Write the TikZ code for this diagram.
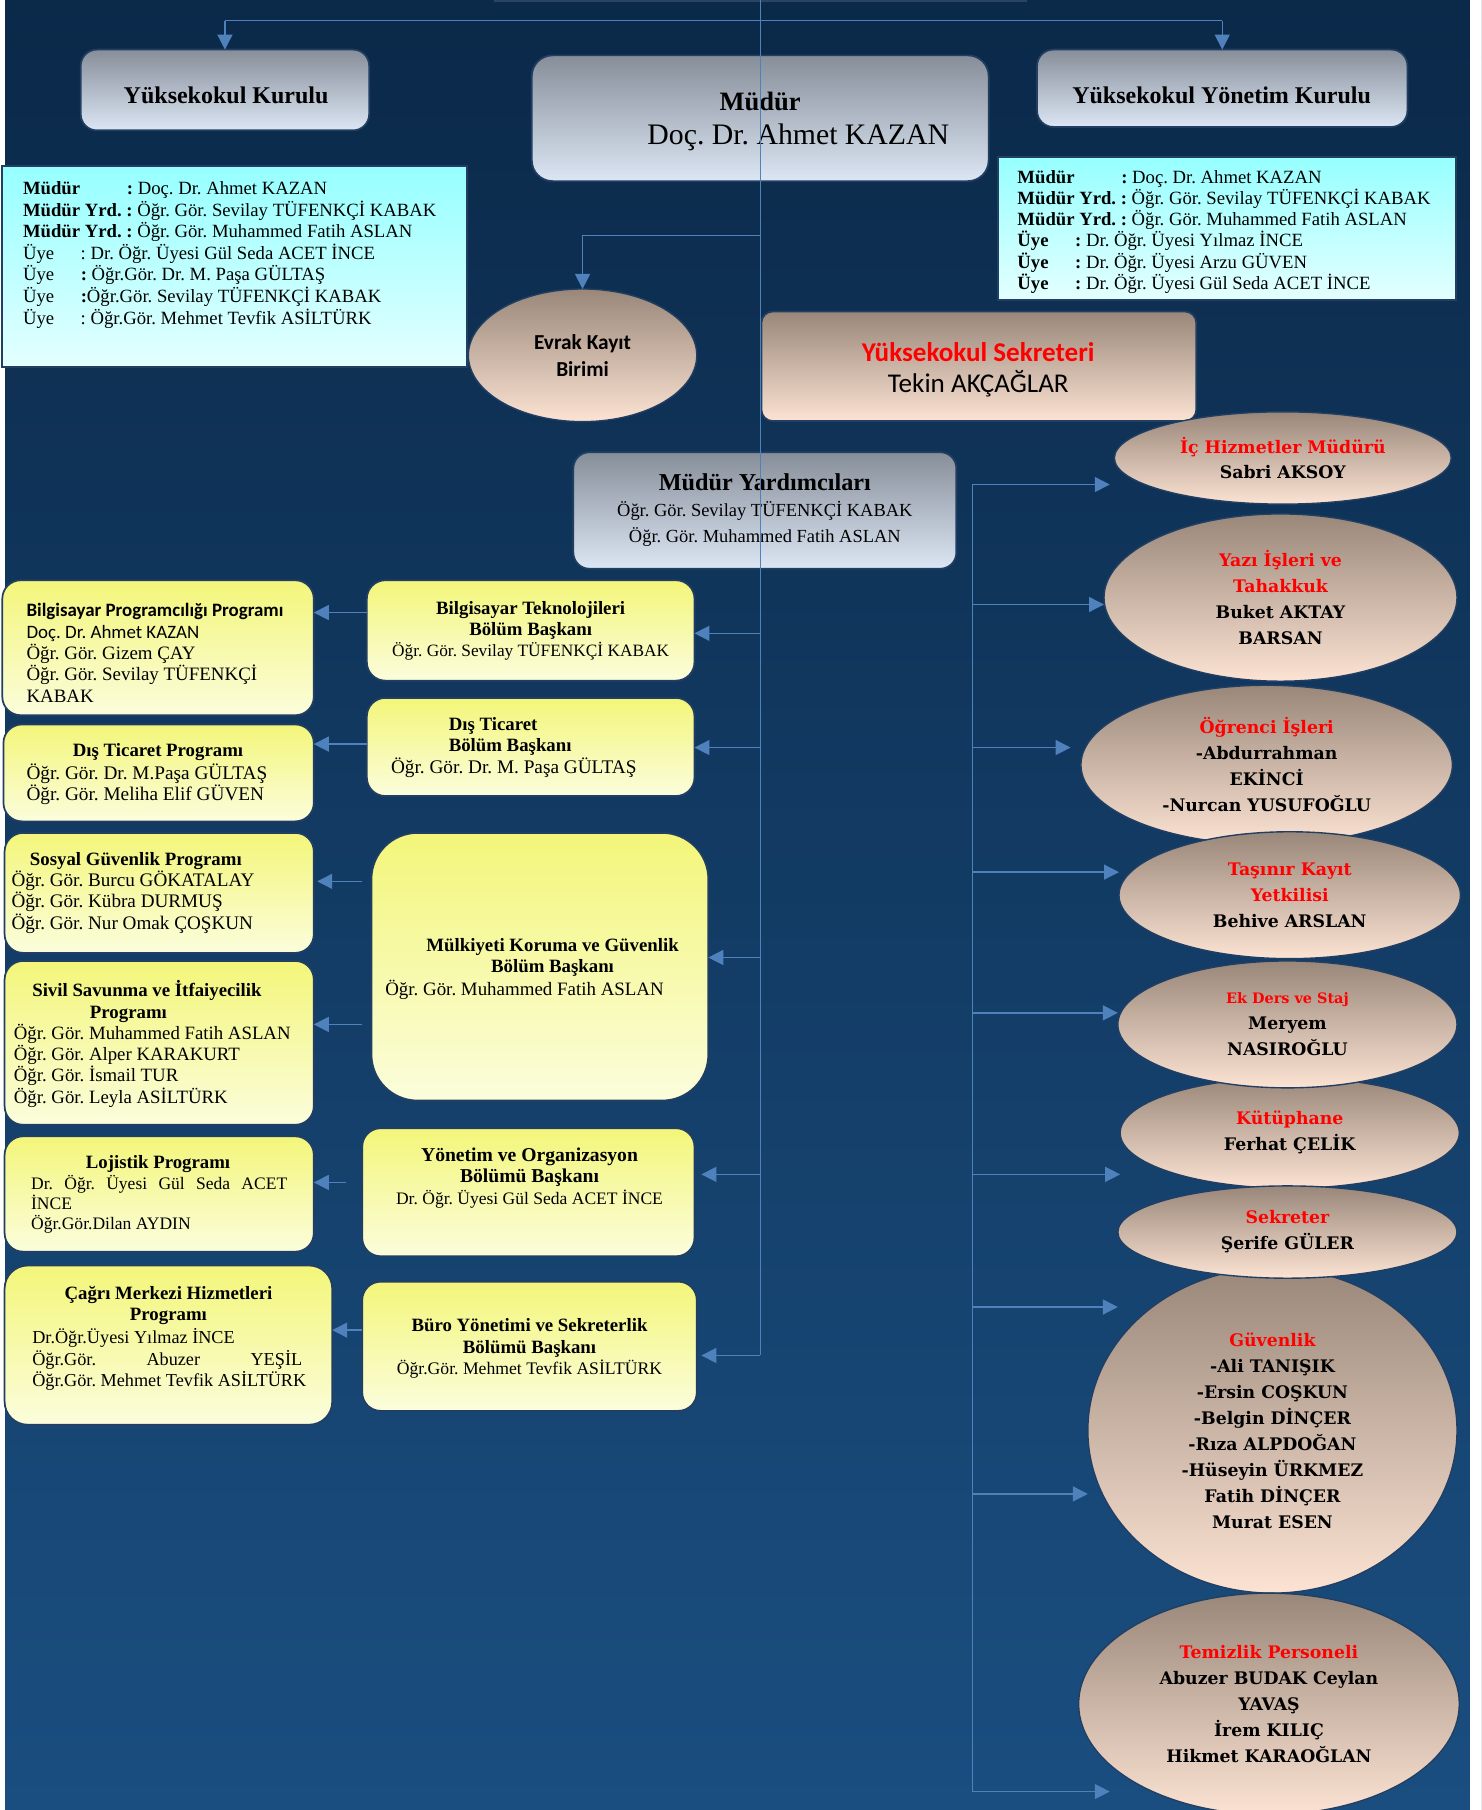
\documentclass[tikz,border=0pt]{standalone}
\usepackage{fontspec}
\setmainfont{Liberation Serif}
\newfontfamily\calfont{Carlito}
\newfontfamily\ellfont{DejaVu Serif}
\usetikzlibrary{shapes.geometric,arrows.meta}
\definecolor{bgtop}{HTML}{0B2949}
\definecolor{bgbot}{HTML}{1A4E80}
\definecolor{linecol}{HTML}{4F81BD}
\definecolor{edgecol}{HTML}{223F63}
\definecolor{topedge}{HTML}{2B4466}
\definecolor{graytop}{HTML}{868E99}
\definecolor{graybot}{HTML}{DCE6F4}
\definecolor{cyantop}{HTML}{96FFFF}
\definecolor{cyanbot}{HTML}{E4FFFF}
\definecolor{yeltop}{HTML}{F3F679}
\definecolor{yelbot}{HTML}{FBFDDC}
\definecolor{peachtop}{HTML}{998779}
\definecolor{peachbot}{HTML}{FCE3D3}
\definecolor{redtxt}{HTML}{FF0000}
\newcommand\fsz[2]{\fontsize{#1}{#2}\selectfont}
\newcommand\rd[1]{\textcolor{redtxt}{#1}}
\newcommand\hd[1]{{\fontsize{16.3}{18}\selectfont\bfseries #1}}
\begin{document}
\frenchspacing
\begin{tikzpicture}[x=1pt,y=-1pt,
  conn/.style={draw=linecol, line width=1.2pt},
  arr/.style={conn, -{Triangle[length=13pt,width=13pt]}},
  boxbase/.style={draw=edgecol, line width=1.5pt, inner sep=0pt, outer sep=0pt, anchor=north west},
  gbox/.style={boxbase, rounded corners=14pt, top color=graytop, bottom color=graybot},
  cbox/.style={boxbase, top color=cyantop, bottom color=cyanbot},
  ybox/.style={boxbase, rounded corners=16pt, top color=yeltop, bottom color=yelbot},
  pbox/.style={boxbase, rounded corners=10pt, top color=peachtop, bottom color=peachbot},
  pell/.style={ellipse, draw=edgecol, line width=1.2pt, inner sep=0pt, outer sep=0pt,
     top color=peachtop, bottom color=peachbot, align=center, text=black},
  rell/.style={pell, font=\ellfont\bfseries\fsz{15}{22.5}},
  t/.style={inner sep=0pt, outer sep=0pt, text=black, align=center},
  tl/.style={inner sep=0pt, outer sep=0pt, text=black, align=left, anchor=west}
]
\useasboundingbox (0,0) rectangle (1284,1569);
% background
\shade[top color=bgtop, bottom color=bgbot] (0,0) rectangle (1284,1569);
\fill[white] (0,0) rectangle (4,1569);
\fill[white] (1274,0) rectangle (1284,1569);
\draw[topedge, line width=1.5pt] (428,0.8) -- (890,0.8);

% ---- top level boxes
\node[gbox, minimum width=250pt, minimum height=70pt] (kurulu) at (70,43) {};
\node[t, font=\bfseries\fsz{20.8}{24}] (kurulut) at (196,83) {Yüksekokul Kurulu};
\node[gbox, rounded corners=18pt, minimum width=396pt, minimum height=109pt] (mudur) at (461,48) {};
\node[t, font=\bfseries\fsz{23}{27}] (mudurt1) at (659,88) {Müdür};
\node[t, font=\fsz{25.8}{30}] (mudurt2) at (692,119) {Doç. Dr. Ahmet KAZAN};
\node[gbox, minimum width=321pt, minimum height=67pt] (yonetim) at (899,43) {};
\node[t, font=\bfseries\fsz{20.8}{24}] (yonetimt) at (1059,83) {Yüksekokul Yönetim Kurulu};

% ---- cyan lists
\node[cbox, minimum width=403pt, minimum height=174pt] (cyanL) at (2,144) {};
\node[tl, font=\fsz{16.2}{18.7}] (cyanLt) at (20,221) {%
\makebox[90pt][l]{\textbf{Müdür}}\textbf{:} Doç. Dr. Ahmet KAZAN\\
\textbf{Müdür Yrd. :} Öğr. Gör. Sevilay TÜFENKÇİ KABAK\\
\textbf{Müdür Yrd. :} Öğr. Gör. Muhammed Fatih ASLAN\\
\makebox[50pt][l]{Üye}: Dr. Öğr. Üyesi Gül Seda ACET İNCE\\
\makebox[50pt][l]{Üye}\textbf{:} Öğr.Gör. Dr. M. Paşa GÜLTAŞ\\
\makebox[50pt][l]{Üye}\textbf{:}Öğr.Gör. Sevilay TÜFENKÇİ KABAK\\
\makebox[50pt][l]{Üye}: Öğr.Gör. Mehmet Tevfik ASİLTÜRK};
\node[cbox, minimum width=397pt, minimum height=124pt] (cyanR) at (865,136) {};
\node[tl, font=\fsz{16.2}{18.4}] (cyanRt) at (882,201) {%
\makebox[90pt][l]{\textbf{Müdür}}\textbf{:} Doç. Dr. Ahmet KAZAN\\
\textbf{Müdür Yrd. :} Öğr. Gör. Sevilay TÜFENKÇİ KABAK\\
\textbf{Müdür Yrd. :} Öğr. Gör. Muhammed Fatih ASLAN\\
\makebox[50pt][l]{\textbf{Üye}}\textbf{:} Dr. Öğr. Üyesi Yılmaz İNCE\\
\makebox[50pt][l]{\textbf{Üye}}\textbf{:} Dr. Öğr. Üyesi Arzu GÜVEN\\
\makebox[50pt][l]{\textbf{Üye}}\textbf{:} Dr. Öğr. Üyesi Gül Seda ACET İNCE};

% ---- evrak, sekreter, mudur yardimcilari
\node[pell, minimum width=198pt, minimum height=115pt, font=\calfont\bfseries\fsz{18.5}{23}] (evrak) at (505,308) {Evrak Kayıt\\Birimi};
\node[pbox, minimum width=377pt, minimum height=95pt] (sekreteri) at (660,270) {};
\node[t, font=\calfont\fsz{23.5}{27}] (sekreterit) at (848,320.5) {\rd{\bfseries Yüksekokul Sekreteri}\\Tekin AKÇAĞLAR};
\node[gbox, minimum width=332pt, minimum height=101pt] (myard) at (497,392) {};
\node[t, font=\bfseries\fsz{21}{24}] (myardt1) at (663,418) {Müdür Yardımcıları};
\node[t, font=\fsz{16}{22}] (myardt2) at (663,454) {Öğr. Gör. Sevilay TÜFENKÇİ KABAK\\Öğr. Gör. Muhammed Fatih ASLAN};

% ---- department heads
\node[ybox, minimum width=284pt, minimum height=87pt] (bt) at (318,503) {};
\node[t, font=\fsz{15}{18}] (btt) at (460,547) {\hd{Bilgisayar Teknolojileri}\\\hd{Bölüm Başkanı}\\Öğr. Gör. Sevilay TÜFENKÇİ KABAK};
\node[ybox, minimum width=284pt, minimum height=85pt] (dt) at (318,605) {};
\node[tl, font=\fsz{16.7}{18.5}] (dtt) at (339,648) {\hspace*{50pt}\hd{Dış Ticaret}\\\hspace*{50pt}\hd{Bölüm Başkanı}\\Öğr. Gör. Dr. M. Paşa GÜLTAŞ};
\node[ybox, rounded corners=40pt, minimum width=292pt, minimum height=232pt] (mk) at (322,722) {};
\node[t, font=\fsz{16.3}{18}] (mkt1) at (479,830) {\hd{Mülkiyeti Koruma ve Güvenlik}\\\hd{Bölüm Başkanı}};
\node[tl, font=\fsz{16.4}{18}] (mkt2) at (334,858) {Öğr. Gör. Muhammed Fatih ASLAN};
\node[ybox, minimum width=288pt, minimum height=111pt] (yo) at (314,978) {};
\node[t, font=\fsz{15.2}{18.5}] (yot) at (459,1021) {{\fsz{17}{18}\bfseries Yönetim ve Organizasyon}\\{\fsz{17}{18}\bfseries Bölümü Başkanı}\\Dr. Öğr. Üyesi Gül Seda ACET İNCE};
\node[ybox, minimum width=290pt, minimum height=112pt] (by) at (314,1111) {};
\node[t, font=\fsz{15.3}{18.5}] (byt) at (459,1169) {\hd{Büro Yönetimi ve Sekreterlik}\\\hd{Bölümü Başkanı}\\Öğr.Gör. Mehmet Tevfik ASİLTÜRK};

% ---- programmes
\node[ybox, minimum width=270pt, minimum height=117pt] (bp) at (2,503) {};
\node[tl, font=\fsz{16.4}{18.5}] (bpt) at (23,566) {{\calfont\bfseries Bilgisayar Programcılığı Programı}\\{\calfont Doç. Dr. Ahmet KAZAN}\\Öğr. Gör. Gizem ÇAY\\Öğr. Gör. Sevilay TÜFENKÇİ\\KABAK};
\node[ybox, minimum width=269pt, minimum height=84pt] (dtp) at (3,628) {};
\node[t, font=\fsz{16.3}{18}] (dtpt1) at (137,652) {\hd{Dış Ticaret Programı}};
\node[tl, font=\fsz{16.7}{18.5}] (dtpt2) at (23,680) {Öğr. Gör. Dr. M.Paşa GÜLTAŞ\\Öğr. Gör. Meliha Elif GÜVEN};
\node[ybox, minimum width=268pt, minimum height=104pt] (sg) at (4,722) {};
\node[tl, font=\fsz{16.6}{18.3}] (sgt) at (10,774) {\hspace*{16pt}\hd{Sosyal Güvenlik Programı}\\Öğr. Gör. Burcu GÖKATALAY\\Öğr. Gör. Kübra DURMUŞ\\Öğr. Gör. Nur Omak ÇOŞKUN};
\node[ybox, minimum width=268pt, minimum height=142pt] (ss) at (4,833) {};
\node[tl, font=\fsz{16.3}{18.4}] (sst) at (12,905) {\hspace*{16pt}\hd{Sivil Savunma ve İtfaiyecilik}\\\hspace*{66pt}\hd{Programı}\\Öğr. Gör. Muhammed Fatih ASLAN\\Öğr. Gör. Alper KARAKURT\\Öğr. Gör. İsmail TUR\\Öğr. Gör. Leyla ASİLTÜRK};
\node[ybox, minimum width=268pt, minimum height=100pt] (lj) at (4,985) {};
\node[t, font=\fsz{16.3}{18}] (ljt1) at (137,1009) {\hd{Lojistik Programı}};
\node[tl, font=\fsz{15.2}{17}] (ljt2) at (27,1044) {\makebox[222pt][s]{Dr. Öğr. Üyesi Gül Seda ACET}\\İNCE\\Öğr.Gör.Dilan AYDIN};
\node[ybox, rounded corners=20pt, minimum width=284pt, minimum height=138pt] (cm) at (4,1097) {};
\node[t, font=\fsz{16.3}{18.5}] (cmt1) at (146,1131.5) {\hd{Çağrı Merkezi Hizmetleri}\\\hd{Programı}};
\node[tl, font=\fsz{15.8}{18.5}] (cmt2) at (28,1178.5) {Dr.Öğr.Üyesi Yılmaz İNCE\\\makebox[234pt][s]{Öğr.Gör. Abuzer YEŞİL}\\Öğr.Gör. Mehmet Tevfik ASİLTÜRK};

% ---- right ellipses
\node[rell, minimum width=292pt, minimum height=80pt] (ic) at (1112,397) {\rd{İç Hizmetler Müdürü}\\Sabri AKSOY};
\node[rell, minimum width=306pt, minimum height=145pt] (yazi) at (1110,518) {\rd{Yazı İşleri ve}\\\rd{Tahakkuk}\\Buket AKTAY\\BARSAN};
\node[rell, minimum width=322pt, minimum height=138pt] (ogr) at (1098,663) {\rd{Öğrenci İşleri}\\-Abdurrahman\\EKİNCİ\\-Nurcan YUSUFOĞLU};
\node[rell, minimum width=296pt, minimum height=110pt] (tas) at (1118,776) {\rd{Taşınır Kayıt}\\\rd{Yetkilisi}\\Behive ARSLAN};
\node[rell, minimum width=294pt, minimum height=96pt] (kut) at (1118,982) {\rd{Kütüphane}\\Ferhat ÇELİK};
\node[rell, minimum width=294pt, minimum height=110pt] (ek) at (1116,888) {\rd{\fsz{12.5}{22.5}Ek Ders ve Staj}\\Meryem\\NASIROĞLU};
\node[rell, minimum width=320pt, minimum height=282pt] (guv) at (1103,1240) {\rd{Güvenlik}\\-Ali TANIŞIK\\-Ersin COŞKUN\\-Belgin DİNÇER\\-Rıza ALPDOĞAN\\-Hüseyin ÜRKMEZ\\Fatih DİNÇER\\Murat ESEN};
\node[rell, minimum width=294pt, minimum height=80pt] (sek) at (1116,1068) {\rd{Sekreter}\\Şerife GÜLER};
\node[rell, minimum width=330pt, minimum height=192pt] (tem) at (1100,1477) {\rd{Temizlik Personeli}\\Abuzer BUDAK Ceylan\\YAVAŞ\\İrem KILIÇ\\Hikmet KARAOĞLAN};

% ---- connectors: main trunk
\coordinate (ttop) at (659,0);
\coordinate (tj) at (659,18);
\coordinate (ej) at (659,204);
\coordinate (j1) at (659,549);
\coordinate (j2) at (659,648);
\coordinate (j3) at (659,830);
\coordinate (j4) at (659,1018);
\coordinate (j5) at (659,1175);
\draw[conn] (ttop) -- (j5);
\draw[conn] (kurulu.north |- tj) -- (yonetim.north |- tj);
\draw[arr] (kurulu.north |- tj) -- (kurulu.north);
\draw[arr] (yonetim.north |- tj) -- (yonetim.north);
\draw[arr] (ej) -| (evrak.north);
\draw[arr] (j1) -- (j1 -| bt.east);
\draw[arr] (j2) -- (j2 -| dt.east);
\draw[arr] (j3) -- (j3 -| mk.east);
\draw[arr, shorten >=6pt] (j4) -- (j4 -| yo.east);
\draw[arr, shorten >=4pt] (j5) -- (j5 -| by.east);

% ---- connectors: departments to programmes
\coordinate (a1) at (318,531);
\coordinate (a2) at (318,645);
\coordinate (a3) at (314,764);
\coordinate (a4) at (314,888);
\coordinate (a5) at (300,1025);
\coordinate (a6) at (314,1153);
\draw[arr] (a1) -- (a1 -| bp.east);
\draw[arr] (a2) -- (a2 -| dtp.east);
\draw[arr, shorten >=3pt] (a3) -- (a3 -| sg.east);
\draw[arr] (a4) -- (a4 -| ss.east);
\draw[arr] (a5) -- (a5 -| lj.east);
\draw[arr] (a6) -- (a6 -| cm.east);

% ---- connectors: right trunk
\coordinate (r1) at (843,420);
\coordinate (r2) at (843,524);
\coordinate (r3) at (843,648);
\coordinate (r4) at (843,756);
\coordinate (r5) at (843,878);
\coordinate (r6) at (843,1018);
\coordinate (r7) at (843,1133);
\coordinate (r8) at (843,1295);
\coordinate (r9) at (843,1553);
\coordinate (r9e) at (962,1553);
\draw[conn] (r1) -- (r9);
\draw[arr, shorten >=4pt] (r1) -- (r1 -| ic.west);
\draw[arr] (r2) -- (r2 -| yazi.west);
\draw[arr, shorten >=9pt] (r3) -- (r3 -| ogr.west);
\draw[arr] (r4) -- (r4 -| tas.west);
\draw[arr] (r5) -- (r5 -| ek.west);
\draw[arr] (r6) -- (r6 -| kut.west);
\draw[arr] (r7) -- (r7 -| sek.west);
\draw[arr] (r8) -- (r8 -| guv.west);
\draw[arr] (r9) -- (r9e);
\end{tikzpicture}
\end{document}
